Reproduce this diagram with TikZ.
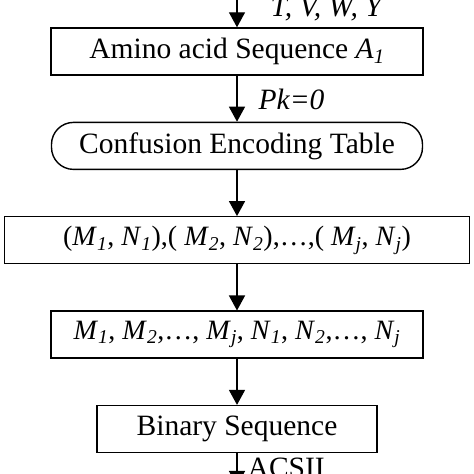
\documentclass[tikz,border=0pt]{standalone}
\usepackage{fontspec}
\setmainfont{Liberation Serif}
\usetikzlibrary{arrows.meta, shapes, positioning}

\newcommand{\isub}[2]{\textit{#1}\textsubscript{\textit{#2}}}

\begin{document}
\begin{tikzpicture}[
    font=\fontsize{29.5}{32}\selectfont,
    procbox/.style={draw, line width=1.4pt, minimum height=47pt, inner sep=0pt},
    tablebox/.style={procbox, rounded corners=22pt},
    listbox/.style={procbox, font=\fontsize{28}{30}\selectfont},
    flow/.style={line width=1.4pt, -{Triangle[length=15pt, width=16pt]}},
    flowlabel/.style={anchor=base west, inner sep=0pt}
]

    \useasboundingbox (0,0) rectangle (474pt,474pt);

    \node[procbox, minimum width=372pt] (amino) at (237pt,422.5pt) {Amino acid Sequence \isub{A}{1}};
    \node[tablebox, minimum width=371pt, below=46pt of amino] (table) {Confusion Encoding Table};
    \node[listbox, minimum width=465pt, below=46pt of table] (pairs) {(\isub{M}{1}, \isub{N}{1}),( \isub{M}{2}, \isub{N}{2}),\dots,( \isub{M}{j}, \isub{N}{j})};
    \node[listbox, minimum width=372pt, below=46pt of pairs] (split) {\isub{M}{1}, \isub{M}{2},\dots, \isub{M}{j}, \isub{N}{1}, \isub{N}{2},\dots, \isub{N}{j}};
    \node[procbox, minimum width=280pt, below=46pt of split] (binary) {Binary Sequence};

    \coordinate (input) at (237pt,489pt);
    \coordinate (output) at (237pt,-12pt);

    \draw[flow] (input) -- (amino) node[flowlabel, pos=0.74, xshift=33pt] (letters) {\textit{T, V, W, Y}};
    \draw[flow] (amino) -- (table) node[flowlabel, pos=0.74, xshift=21pt] (pk) {\textit{Pk=0}};
    \draw[flow] (table) -- (pairs);
    \draw[flow] (pairs) -- (split);
    \draw[flow] (split) -- (binary);
    \draw[flow] (binary) -- (output) node[flowlabel, pos=0.75, xshift=10pt] (ascii) {ACSII};
\end{tikzpicture}
\end{document}
